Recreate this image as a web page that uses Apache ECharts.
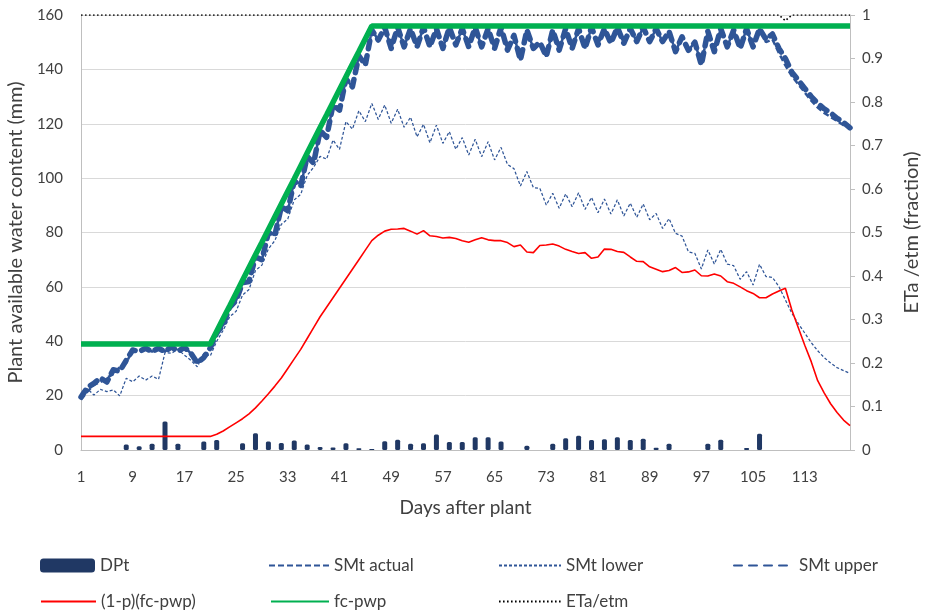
<!DOCTYPE html>
<html>
<head>
<meta charset="utf-8">
<script src="https://cdn.jsdelivr.net/npm/echarts@6/dist/echarts.min.js"></script>
<style>
  html, body { margin: 0; padding: 0; background: #fff; }
  #chart { width: 928px; height: 610px; }
</style>
</head>
<body>
<div id="chart"></div>
<script>
// Days after planting (1..120)
const days = [
  1,2,3,4,5,6,7,8,9,10,11,12,13,14,15,16,17,18,19,20,
  21,22,23,24,25,26,27,28,29,30,31,32,33,34,35,36,37,38,39,40,
  41,42,43,44,45,46,47,48,49,50,51,52,53,54,55,56,57,58,59,60,
  61,62,63,64,65,66,67,68,69,70,71,72,73,74,75,76,77,78,79,80,
  81,82,83,84,85,86,87,88,89,90,91,92,93,94,95,96,97,98,99,100,
  101,102,103,104,105,106,107,108,109,110,111,112,113,114,115,116,117,118,119,120
];

// Deep percolation (mm)
const dpt = [
  0,0,0,0,0,0,0,2.0,0,1.4, 0,2.3,0,10.5,0,2.3,0,0,0,3.1,
  0,3.7,0,0,0,2.5,0,6.2,0,3.1, 0,2.6,0,3.5,0,2.0,0,1.1,0,0.9,
  0,2.5,0,0.6,0,0.4,0,3.2,0,3.8, 0,2.3,0,2.5,0,5.7,0,2.9,0,2.9,
  0,4.7,0,4.7,0,3.1,0,0,0,1.6, 0,0,0,2.3,0,4.3,0,5.2,0,3.7,
  0,4.0,0,4.7,0,3.7,0,4.1,0,0.8, 0,2.3,0,0,0,0,0,2.3,0,3.8,
  0,0,0,0.7,0,6.0,0,0,0,0, 0,0,0,0,0,0,0,0,0,0
];

// Soil moisture, actual (mm)
const smActual = [
  18.5,21.5,24,25,26.5,28,30.5,32,36.8,36.2, 37.4,36.2,37.4,36.2,38,36.2,37.8,35.6,32,34,
  37.5,43,46,52.5,55,61.5,62,71,70,80, 79,89.5,88,99,97,108,105.5,117.5,115,127,
  125,136.5,133.6,145,141.6,154.5,150.8,155.5,147.7,155.5, 148.3,155,148.3,155.5,148.3,155,147.7,155.5,149,155,
  148.3,155.5,148.3,155,147.7,155.5,147.1,152.5,143.4,154.5, 147.7,150,144.7,154.5,147.1,155,147.7,155,147.7,155.5,
  149,155,149.6,155.5,149.6,155,150.2,155.5,150.2,155, 150.2,154,146.5,152,147,150,141.6,154,146.5,155,
  148.3,154.5,147.7,155,148.3,155,150,151,146,141.5, 137.5,134.5,131.5,128.5,126,124,122.5,121,119.5,118.5
];

// Soil moisture, lower bound (mm)
const smLower = [
  21,22.5,20.2,22.3,21.5,22.1,19.9,26.4,25.1,27.2, 25.7,27.2,26,35.8,35.6,37,34.9,33,30.6,35.6,
  34.6,40,44,49,51,57,59,66,68,74, 77,83,85,92,94,101,104,108,107,114,
  110.6,120.8,118,124.8,120.8,127.5,121.6,126.9,120.2,125.3, 118.7,122.4,115.2,119.8,113,119.5,112.8,117.1,110.6,114.9,
  108.5,114.3,107.9,113.4,106.7,111.3,105,103.5,97.1,102.4, 96.5,96.3,90.1,94.4,88.9,94.2,89.5,94.6,88.5,92.9,
  87.3,92.3,86.8,92,86.1,90.8,85.6,90.5,84.7,87, 81.5,85.1,79.7,78.7,72.9,72.3,66.6,73.6,68.4,73.8,
  68.4,67.8,62.8,65.6,60.7,68.3,63.8,63.5,60.1,55.2, 50.3,46.5,43,39.5,36.5,34,32,30.3,29.2,28.2
];

// Soil moisture, upper bound (mm)
const smUpper = [
  19.5,23,24.5,26.5,25,29.5,29,33,36.8,36.2, 37.4,36.2,37.4,36.2,38,36.2,37.8,35.6,32,34,
  37.5,43,46,52.5,55,61.5,62,71,70,80, 79,89.5,88,99,97,108,105.5,117.5,115,127,
  125,136.5,133.6,145,141.6,154.5,150.8,155.5,147.7,155.5, 148.3,155,148.3,155.5,148.3,155,147.7,155.5,149,155,
  148.3,155.5,148.3,155,147.7,155.5,147.1,152.5,143.4,154.5, 147.7,150,144.7,154.5,147.1,155,147.7,155,147.7,155.5,
  149,155,149.6,155.5,149.6,155,150.2,155.5,150.2,155, 150.2,154,146.5,152,147,150,141.6,154,146.5,155,
  148.3,154.5,147.7,155,148.3,155,151,153,147.7,144, 139,136,133,130,127.5,125.5,124,122,120.5,118.5
];

// Readily available water threshold (1-p)(fc-pwp) (mm)
const rawThreshold = [
  5,5,5,5,5,5,5,5,5,5, 5,5,5,5,5,5,5,5,5,5,
  5,5.8,7,8.5,10,11.5,13.3,15.5,18,20.7, 23.5,26.5,30,33.5,37,41,45,49,52.5,56,
  59.5,63,66.5,70,73.5,77,79,80.5,81.2,81.3, 81.5,80.5,79.4,80.7,78.8,78.5,78,78.2,77.8,77,
  76.4,77.3,78.1,77.3,77,77,76.3,74.8,75.4,72.8, 72.6,75.2,75.4,75.8,75,73.8,73,72.3,72.6,70.5,
  71,73.9,73.8,73,72.7,71,69.4,69.3,67.4,66.5, 65.6,66,67.1,65.3,65.5,66.2,64.1,64,64.7,64,
  61.9,61.3,60,58.6,57.6,56,56,57.4,58.5,59.5, 51.5,45,38.5,32.5,25.5,21,17,13.8,11,9
];

// Total available water fc-pwp (mm)
const taw = [
  39,39,39,39,39,39,39,39,39,39, 39,39,39,39,39,39,39,39,39,39,
  39,43.7,48.4,53,57.7,62.4,67.1,71.8,76.4,81.1, 85.8,90.5,95.2,99.8,104.5,109.2,113.9,118.6,123.2,127.9,
  132.6,137.3,142,146.6,151.3,156,156,156,156,156, 156,156,156,156,156,156,156,156,156,156,
  156,156,156,156,156,156,156,156,156,156, 156,156,156,156,156,156,156,156,156,156,
  156,156,156,156,156,156,156,156,156,156, 156,156,156,156,156,156,156,156,156,156,
  156,156,156,156,156,156,156,156,156,156, 156,156,156,156,156,156,156,156,156,156
];

// Actual / maximum evapotranspiration ratio
const etRatio = [
  1,1,1,1,1,1,1,1,1,1, 1,1,1,1,1,1,1,1,1,1,
  1,1,1,1,1,1,1,1,1,1, 1,1,1,1,1,1,1,1,1,1,
  1,1,1,1,1,1,1,1,1,1, 1,1,1,1,1,1,1,1,1,1,
  1,1,1,1,1,1,1,1,1,1, 1,1,1,1,1,1,1,1,1,1,
  1,1,1,1,1,1,1,1,1,1, 1,1,1,1,1,1,1,1,1,1,
  1,1,1,1,1,1,1,1,1,0.987, 1,1,1,1,1,1,1,1,1,1
];

const FONT = 'Lato, "Open Sans", sans-serif';
const TEXT = '#404040';
const BLUE = '#2F5597';

const chart = echarts.init(document.getElementById('chart'), null, { renderer: 'canvas' });

// One legend block per entry so each sits in its own column/row
function legendAt(name, left, top, width, isLine) {
  return {
    data: [name], left: left, top: top, padding: 0,
    itemWidth: width, itemHeight: 14, itemGap: 0,
    itemStyle: isLine ? { opacity: 0 } : {},
    textStyle: { fontFamily: FONT, fontSize: 17, color: TEXT },
    selectedMode: false
  };
}

chart.setOption({
  animation: false,
  backgroundColor: '#fff',
  grid: { left: 81, right: 78, top: 15, bottom: 160, containLabel: false, outerBoundsMode: 'none' },
  legend: [
    legendAt('DPt', 40, 557, 55, false),
    legendAt('SMt actual', 268, 557, 60, true),
    legendAt('SMt lower', 498, 557, 62, true),
    legendAt('SMt upper', 733, 557, 60, true),
    legendAt('(1-p)(fc-pwp)', 40, 593, 55, true),
    legendAt('fc-pwp', 270, 593, 58, true),
    legendAt('ETa/etm', 498, 593, 62, true)
  ],
  xAxis: {
    type: 'category',
    data: days,
    boundaryGap: false,
    name: 'Days after plant',
    nameLocation: 'middle',
    nameGap: 48,
    nameTextStyle: { fontFamily: FONT, fontSize: 19, color: TEXT },
    axisLine: { lineStyle: { color: '#BFBFBF', width: 1 } },
    axisTick: { show: false },
    axisLabel: { interval: 7, margin: 20, fontFamily: FONT, fontSize: 15, color: TEXT },
    splitLine: { show: false }
  },
  yAxis: [
    {
      type: 'value', min: 0, max: 160, interval: 20,
      name: 'Plant available water content (mm)',
      nameLocation: 'middle', nameGap: 52, nameRotate: 90,
      nameTextStyle: { fontFamily: FONT, fontSize: 20, color: TEXT },
      axisLine: { show: true, lineStyle: { color: '#BFBFBF' } },
      axisTick: { show: false },
      axisLabel: { margin: 18, fontFamily: FONT, fontSize: 15, color: TEXT },
      splitLine: { show: true, lineStyle: { color: '#D9D9D9', width: 1 } }
    },
    {
      type: 'value', min: 0, max: 1, interval: 0.1,
      position: 'right',
      name: 'ETa /etm (fraction)',
      nameLocation: 'middle', nameGap: 52, nameRotate: 90,
      nameTextStyle: { fontFamily: FONT, fontSize: 20, color: TEXT },
      axisLine: { show: true, lineStyle: { color: '#BFBFBF' } },
      axisTick: { show: true, inside: false, length: 5, lineStyle: { color: '#BFBFBF' } },
      axisLabel: { margin: 12, fontFamily: FONT, fontSize: 15, color: TEXT },
      splitLine: { show: false }
    }
  ],
  series: [
    {
      name: 'DPt', type: 'bar', data: dpt, yAxisIndex: 0,
      barWidth: 5, itemStyle: { color: '#203864', borderRadius: 1.5 }
    },
    {
      name: 'SMt actual', type: 'line', data: smActual, yAxisIndex: 0,
      symbol: 'none', color: BLUE,
      lineStyle: { color: BLUE, width: 2.5, type: [6, 3] }
    },
    {
      name: 'SMt lower', type: 'line', data: smLower, yAxisIndex: 0,
      symbol: 'none', color: BLUE,
      lineStyle: { color: BLUE, width: 1.25, type: [3, 2] }
    },
    {
      name: 'SMt upper', type: 'line', data: smUpper, yAxisIndex: 0,
      symbol: 'none', color: BLUE,
      lineStyle: { color: BLUE, width: 5.5, type: [8, 7], cap: 'round', join: 'round' }
    },
    {
      name: '(1-p)(fc-pwp)', type: 'line', data: rawThreshold, yAxisIndex: 0,
      symbol: 'none', color: '#FF0000',
      lineStyle: { color: '#FF0000', width: 1.6 }
    },
    {
      name: 'fc-pwp', type: 'line', data: taw, yAxisIndex: 0,
      symbol: 'none', color: '#00B050',
      lineStyle: { color: '#00B050', width: 5.5 }
    },
    {
      name: 'ETa/etm', type: 'line', data: etRatio, yAxisIndex: 1,
      symbol: 'none', color: '#000000',
      lineStyle: { color: '#000000', width: 1.6, type: [1.6, 2.4] }
    }
  ]
});
</script>
</body>
</html>
